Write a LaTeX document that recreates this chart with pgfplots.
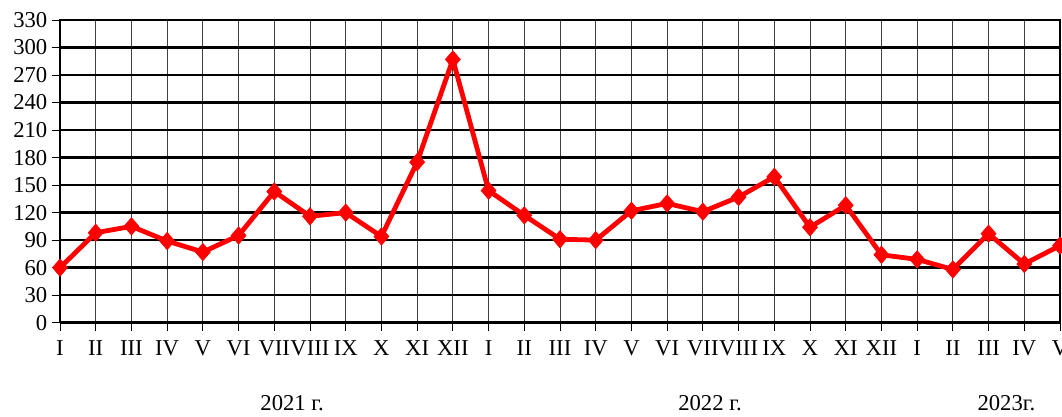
\documentclass[border=0pt]{standalone}
\usepackage{fontspec}
\setmainfont{Liberation Serif}
\usepackage{pgfplots}
\pgfplotsset{compat=1.18}
\begin{document}
\begin{tikzpicture}
\begin{axis}[
    scale only axis,
    width=750pt, height=227pt,
    xmin=0, xmax=28, ymin=0, ymax=330,
    clip=false,
    xtick={0,...,28},
    xticklabels={I,II,III,IV,V,VI,VII,VIII,IX,X,XI,XII,I,II,III,IV,V,VI,VII,VIII,IX,X,XI,XII,I,II,III,IV,V},
    ytick={0,30,...,330},
    tick pos=left,
    tick align=outside,
    major tick length=6pt,
    tick style={black, line width=0.6pt},
    grid=major,
    x grid style={black!75, line width=0.75pt},
    y grid style={black, line width=1.8pt},
    axis line style={black, line width=0.8pt},
    ticklabel style={font=\fontsize{17}{20}\selectfont},
    xticklabel style={yshift=-4pt, inner xsep=0pt},
    /pgf/number format/assume math mode=true,
]
\addplot[red, line width=3.6pt, mark=diamond*,
    mark size=6.5pt, mark options={solid, fill=red, line width=0.5pt, xscale=1.15}]
coordinates {
    (0,60) (1,98) (2,105) (3,89) (4,77) (5,95) (6,143) (7,116) (8,120) (9,94) (10,175) (11,287)
    (12,144) (13,117) (14,91) (15,90) (16,122) (17,130) (18,121) (19,137) (20,159) (21,104) (22,128) (23,74)
    (24,69) (25,58) (26,97) (27,64) (28,84)
};
\coordinate (bl) at (rel axis cs:0,0);
\coordinate (tr) at (rel axis cs:1,1);
\node[font=\fontsize{17}{20}\selectfont] at ([yshift=-60.5pt]axis cs:6.5,0) {2021 г.};
\node[font=\fontsize{17}{20}\selectfont] at ([yshift=-60.5pt]axis cs:18.2,0) {2022 г.};
\node[font=\fontsize{17}{20}\selectfont] at ([yshift=-60.5pt]axis cs:26.5,0) {2023г.};
\end{axis}
\pgfresetboundingbox
\path ([shift={(-45pt,-70.5pt)}]bl) rectangle ([shift={(1.5pt,15pt)}]tr);
\end{tikzpicture}
\end{document}
